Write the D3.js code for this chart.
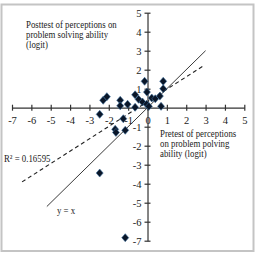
<!DOCTYPE html>
<html>
<head>
<meta charset="utf-8">
<script src="https://cdn.jsdelivr.net/npm/d3@7"></script>
<style>
body { margin: 0; background: #fff; }
svg { display: block; font-family: "Liberation Serif", "Times New Roman", serif; }
</style>
</head>
<body>
<svg width="256" height="253"></svg>
<script>
// pretest (x) and posttest (y) logits
var pretest  = [-2.47, -2.29, -2.10, -2.47, -1.67, -1.63, -1.41, -1.41, -1.25, -1.15, -1.03, -1.15,
                -0.64, -0.64, -0.46, -0.26, -0.15, -0.03, -0.05, 0.07, 0.22, 0.40, 0.64, 0.70, 0.81, 0.81];
var posttest = [-0.35, 0.39, 0.58, -3.44, -1.14, -1.30, 0.39, 0.10, -0.58, -1.19, 0.18, -6.84,
                0.68, 0.02, 0.44, 0.30, 1.39, 0.82, 0.18, 0.07, 0.51, 0.47, 0.61, 0.07, 1.39, 1.00];
var ticks = [-7, -6, -5, -4, -3, -2, -1, 0, 1, 2, 3, 4, 5];
var identityRange = [-5.2, 3];          // y = x line
var fitRange = [-6.48, 2.87];           // regression line
var fitSlope = 0.652, fitIntercept = 0.32;
var yTitle = ["Posttest of perceptions on", "problem solving ability", "(logit)"];
var xTitle = ["Pretest of perceptions", "on problem polving", "ability (logit)"];

var svg = d3.select("svg");
var x = d3.scaleLinear().domain([-7, 5]).range([12, 244.3]);
var y = d3.scaleLinear().domain([-7, 5]).range([240.7, 12.7]);
var fmt = d => String(d);   // plain hyphen minus like the original

// frame
svg.append("rect")
    .attr("x", 1.5).attr("y", 4.5).attr("width", 252).attr("height", 246.5)
    .attr("fill", "none").attr("stroke", "#c4c4c4").attr("stroke-width", 2);

var axisColor = "#333";

// x axis
var gx = svg.append("g")
    .attr("transform", "translate(0," + y(0) + ")")
    .call(d3.axisBottom(x).tickValues(ticks).tickFormat(fmt).tickSize(3).tickSizeOuter(0));
gx.selectAll(".tick line").attr("y1", -3).attr("y2", 3);
gx.selectAll(".tick text").attr("y", 9);

// y axis
var gy = svg.append("g")
    .attr("transform", "translate(" + x(0) + ",0)")
    .call(d3.axisLeft(y).tickValues(ticks.filter(d => d != 0)).tickFormat(fmt).tickSize(3).tickSizeOuter(0));
gy.selectAll(".tick line").attr("x1", -3).attr("x2", 3);
gy.selectAll(".tick text").attr("x", -6);

svg.selectAll("g").attr("font-family", null).attr("font-size", 10.5);
svg.selectAll(".domain, .tick line").attr("stroke", axisColor).attr("stroke-width", 1.2);
svg.selectAll(".tick text").attr("fill", "#222");

// y = x
svg.append("line")
    .attr("x1", x(identityRange[0])).attr("y1", y(identityRange[0]))
    .attr("x2", x(identityRange[1])).attr("y2", y(identityRange[1]))
    .attr("stroke", "#222").attr("stroke-width", 0.9);

// regression
svg.append("line")
    .attr("x1", x(fitRange[0])).attr("y1", y(fitSlope * fitRange[0] + fitIntercept))
    .attr("x2", x(fitRange[1])).attr("y2", y(fitSlope * fitRange[1] + fitIntercept))
    .attr("stroke", "#222").attr("stroke-width", 1.1).attr("stroke-dasharray", "4,3");

// points
var pts = pretest.map((d, i) => [d, posttest[i]]);
svg.selectAll("path.pt").data(pts).enter().append("path")
    .attr("class", "pt")
    .attr("d", d => {
        var cx = x(d[0]), cy = y(d[1]);
        return "M" + cx + "," + (cy - 4) + "L" + (cx + 3.5) + "," + cy + "L" + cx + "," + (cy + 4) + "L" + (cx - 3.5) + "," + cy + "Z";
    })
    .attr("fill", "#0a1628")
    .attr("stroke", "#3c6e9e")
    .attr("stroke-width", 0.6);

// text is a bit narrower than Liberation Serif in the original
function squeeze(sel) {
    sel.each(function() {
        var w = this.getComputedTextLength();
        d3.select(this).attr("textLength", w * 0.88).attr("lengthAdjust", "spacingAndGlyphs");
    });
}

function block(lines, x0, y0) {
    var t = svg.append("text").attr("x", x0).attr("y", y0).attr("font-size", 10).attr("fill", "#222")
        .selectAll("tspan").data(lines).enter().append("tspan")
        .attr("x", x0).attr("dy", (d, i) => i ? 10.4 : 0).text(d => d);
    squeeze(t);
}
block(yTitle, 26, 27.5);
block(xTitle, 160, 136.5);

squeeze(svg.append("text").attr("x", 4).attr("y", 162).attr("font-size", 10).attr("fill", "#222")
    .text("R² = 0.16595"));
squeeze(svg.append("text").attr("x", 57).attr("y", 214).attr("font-size", 10).attr("fill", "#222")
    .text("y = x"));
</script>
</body>
</html>
